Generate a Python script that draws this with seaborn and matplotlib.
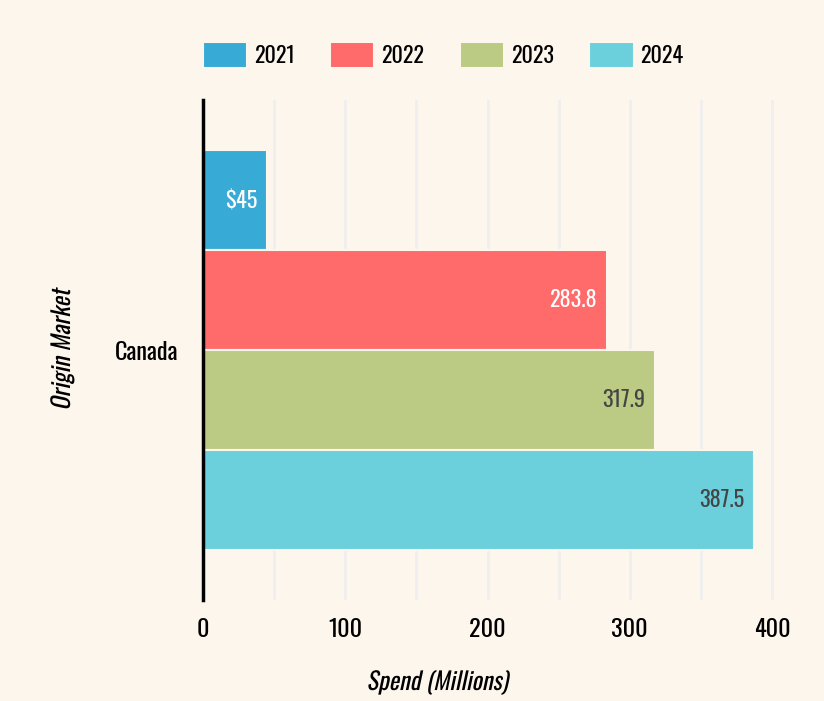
import matplotlib
matplotlib.use("Agg")
import matplotlib.pyplot as plt
import seaborn as sns
import pandas as pd
from matplotlib.ticker import MultipleLocator
from matplotlib import font_manager
from matplotlib.patheffects import AbstractPathEffect
from matplotlib.transforms import Affine2D

markets = ["Canada"]
years = ["2021", "2022", "2023", "2024"]
spend = [45, 283.8, 317.9, 387.5]
labels = ["$45", "283.8", "317.9", "387.5"]
colors = ["#37aad5", "#ff6b6b", "#bccb84", "#6bd0dc"]
label_colors = ["white", "white", "#444444", "#444444"]

df = pd.DataFrame({"Market": markets * len(years), "Year": years, "Spend": spend})


class Slant(AbstractPathEffect):
    """Draw text with a synthetic oblique slant."""
    def __init__(self, deg=12):
        super().__init__()
        self.deg = deg

    def draw_path(self, renderer, gc, tpath, affine, rgbFace=None):
        skew = Affine2D().skew_deg(self.deg, 0)
        renderer.draw_path(gc, tpath, skew + affine, rgbFace)


bg = "#fdf6ec"
sns.set_theme(style="white")
names = {f.name for f in font_manager.fontManager.ttflist}
fam = "DejaVu Sans"
for cand in ["Oswald", "Liberation Sans Narrow", "Roboto Condensed", "Open Sans Condensed"]:
    if cand in names:
        fam = cand
        break
plt.rcParams["font.family"] = [fam, "DejaVu Sans"]
plt.rcParams["font.stretch"] = "condensed"

fig = plt.figure(figsize=(8.24, 7.01), dpi=100, facecolor=bg)
ax = fig.add_axes([0.2464, 0.144, 0.725, 0.713])
ax.set_facecolor(bg)

sns.barplot(data=df, y="Market", x="Spend", hue="Year", hue_order=years,
            palette=colors, orient="h", ax=ax, width=0.8, saturation=1,
            linewidth=1.5, edgecolor=bg)

ax.set_xlim(0, 420)
ax.xaxis.set_major_locator(MultipleLocator(100))
ax.xaxis.set_minor_locator(MultipleLocator(50))
ax.grid(axis="x", which="both", color="#efefef", linewidth=2)
ax.set_axisbelow(True)
for s in ["top", "right", "bottom"]:
    ax.spines[s].set_visible(False)
ax.spines["left"].set_color("black")
ax.spines["left"].set_linewidth(2.5)
ax.tick_params(axis="both", which="both", length=0, labelsize=17.5, colors="black")
ax.tick_params(axis="x", pad=13)
ax.tick_params(axis="y", pad=18)

for cont, lab, lc in zip(ax.containers, labels, label_colors):
    p = cont.patches[0]
    ax.annotate(lab, xy=(p.get_x() + p.get_width(), p.get_y() + p.get_height() / 2),
                xytext=(-7, 0), textcoords="offset points", ha="right", va="center",
                color=lc, fontsize=16)

ax_w = 0.725 * 824
ax.set_xlabel("Spend (Millions)", fontsize=17.5, color="black",
              path_effects=[Slant(12)])
ax.xaxis.set_label_coords((437 - 203) / ax_w, -(671 - 600) / 500)
ax.set_ylabel("Origin Market", fontsize=17.5, color="black",
              path_effects=[Slant(12)])
ax.yaxis.set_label_coords(-(203 - 74) / ax_w, 0.5)

leg = ax.legend(loc="center", bbox_to_anchor=((443 / 824 - 0.2464) / 0.725, 1.0 + 45 / 500),
                ncol=4, frameon=False, fontsize=16, handlelength=2.0, handleheight=1.4,
                columnspacing=1.6, handletextpad=0.3)
for t in leg.get_texts():
    t.set_color("black")

fig.savefig("out.png", dpi=100, facecolor=bg)
